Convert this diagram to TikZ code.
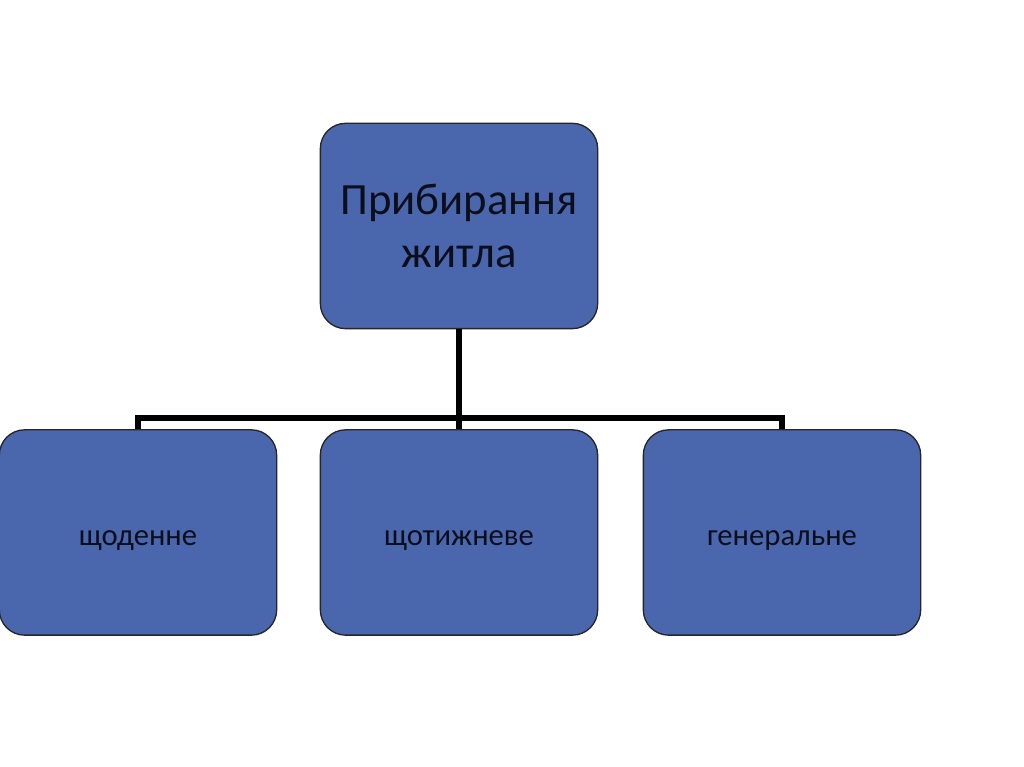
\documentclass[tikz,border=0pt]{standalone}
\usepackage{fontspec}
\setmainfont{Carlito}
\usetikzlibrary{positioning}
\definecolor{boxblue}{HTML}{4A66AC}
\definecolor{ink}{HTML}{0C0E1C}
\tikzset{
  box/.style  = {draw=black!85, line width=1pt, fill=boxblue, rounded corners=19pt, text=ink,
                 align=center, minimum width=208pt, minimum height=154pt, inner sep=2pt},
  head/.style = {box, font=\fontsize{33.5}{40}\selectfont},
  leaf/.style = {box, font=\fontsize{23}{27}\selectfont, text height=24pt, text depth=4pt},
  tie/.style  = {line width=3.8pt},
}

\begin{document}
\begin{tikzpicture}[x=0.75pt, y=0.75pt]
    \useasboundingbox (0,0) rectangle (1024,767);

    \node[head] (home) at (459,541) {Прибирання\\житла};

    \node[leaf] (daily)   at (138,234.5) {щоденне};
    \node[leaf] (weekly)  at (459,234.5) {щотижневе};
    \node[leaf] (general) at (782,234.5) {генеральне};

    \coordinate (bus) at (459,349);
    \draw[tie] (home.south) -- (weekly.north);
    \draw[tie] (daily.north) |- (bus) -| (general.north);
  \end{tikzpicture}
\end{document}
